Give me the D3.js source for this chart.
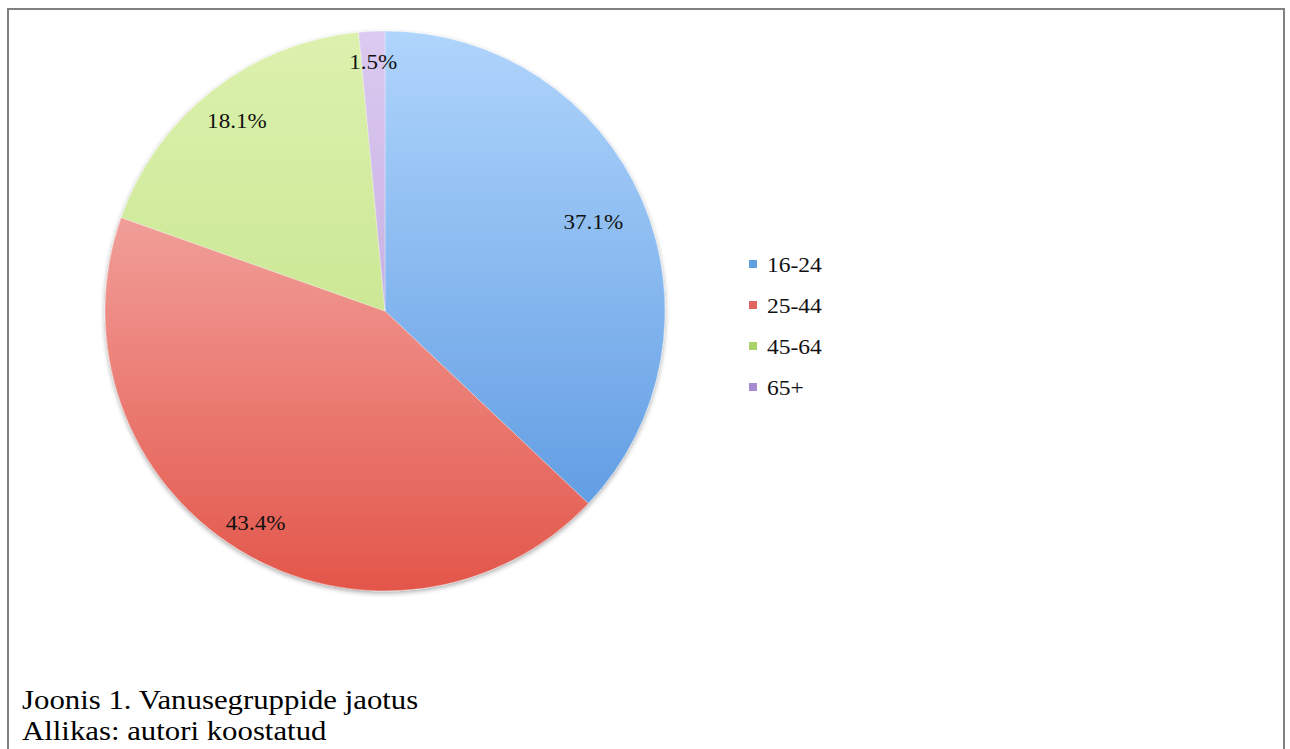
<!DOCTYPE html>
<html><head><meta charset="utf-8">
<script src="https://cdn.jsdelivr.net/npm/d3@7"></script>
<style>
body{margin:0;background:#fff;}
svg{display:block;}
</style></head>
<body>
<svg id="c" width="1290" height="749"></svg>
<script>
const categories = ["16-24", "25-44", "45-64", "65+"];
const values = [37.1, 43.4, 18.1, 1.5];
const valueLabels = ["37.1%", "43.4%", "18.1%", "1.5%"];
const captionLines = ["Joonis 1. Vanusegruppide jaotus", "Allikas: autori koostatud"];

const FONT = "Liberation Serif";
const colorsTop = ["#b0d5fc", "#f8c2c0", "#dcf1ae", "#dccaf0"];
const colorsBottom = ["#5494df", "#e3564a", "#bcdf7c", "#b497d8"];
const legendColors = ["#5f9edf", "#e06663", "#a9d26a", "#a68bd0"];
const labelRadius = [0.81, 0.885, 0.86, 0.89];

const svg = d3.select("#c");
const cx = 385, cy = 311, R = 280;

// frame
svg.append("path")
  .attr("d", `M8,749 L8,9 L1284,9 L1284,749`)
  .attr("fill", "none").attr("stroke", "#808080").attr("stroke-width", 2);

const defs = svg.append("defs");
categories.forEach((c, i) => {
  const g = defs.append("linearGradient").attr("id", "g" + i)
    .attr("gradientUnits", "userSpaceOnUse")
    .attr("x1", 0).attr("y1", -R).attr("x2", 0).attr("y2", R);
  g.append("stop").attr("offset", 0).attr("stop-color", colorsTop[i]);
  g.append("stop").attr("offset", 1).attr("stop-color", colorsBottom[i]);
});
const f = defs.append("filter").attr("id", "sh").attr("x", "-10%").attr("y", "-10%").attr("width", "120%").attr("height", "120%");
f.append("feGaussianBlur").attr("in", "SourceAlpha").attr("stdDeviation", 2.5).attr("result", "b");
f.append("feOffset").attr("in", "b").attr("dx", 0).attr("dy", 2).attr("result", "o");
f.append("feComponentTransfer").attr("in", "o").attr("result", "o2")
  .append("feFuncA").attr("type", "linear").attr("slope", 0.35);
const fm = f.append("feMerge");
fm.append("feMergeNode").attr("in", "o2");
fm.append("feMergeNode").attr("in", "SourceGraphic");

const pie = d3.pie().sort(null).value(d => d)(values);
const arc = d3.arc().innerRadius(0).outerRadius(R);

const g = svg.append("g").attr("transform", `translate(${cx},${cy})`);
g.append("g").attr("filter", "url(#sh)").selectAll("path").data(pie).join("path")
  .attr("d", arc)
  .attr("fill", (d, i) => `url(#g${i})`)
  .attr("stroke", "rgba(255,255,255,0.3)").attr("stroke-width", 1);

g.selectAll("text.lbl").data(pie).join("text").attr("class", "lbl")
  .attr("transform", (d, i) => {
    const a = (d.startAngle + d.endAngle) / 2;
    const r = R * labelRadius[i];
    return `translate(${r * Math.sin(a)},${-r * Math.cos(a)}) scale(1.05,1)`;
  })
  .attr("text-anchor", "middle").attr("dominant-baseline", "central")
  .attr("font-family", FONT)
  .attr("font-size", 22).attr("fill", "#111")
  .text((d, i) => valueLabels[i]);

// legend
const lg = svg.append("g").attr("transform", "translate(749,265)");
const row = lg.selectAll("g").data(categories).join("g")
  .attr("transform", (d, i) => `translate(0,${i * 41})`);
row.append("rect").attr("x", 0).attr("y", -5).attr("width", 8).attr("height", 8)
  .attr("fill", (d, i) => legendColors[i]);
row.append("text").attr("transform", "translate(18,0) scale(1.07,1)").attr("dominant-baseline", "central")
  .attr("font-family", FONT)
  .attr("font-size", 22).attr("fill", "#111").text(d => d);

// caption
svg.selectAll("text.cap").data(captionLines).join("text").attr("class", "cap")
  .attr("transform", (d, i) => `translate(22,${709 + i * 31}) scale(1.1,1)`)
  .attr("font-family", FONT)
  .attr("font-size", 28).attr("fill", "#000").text(d => d);
</script>
</body></html>
